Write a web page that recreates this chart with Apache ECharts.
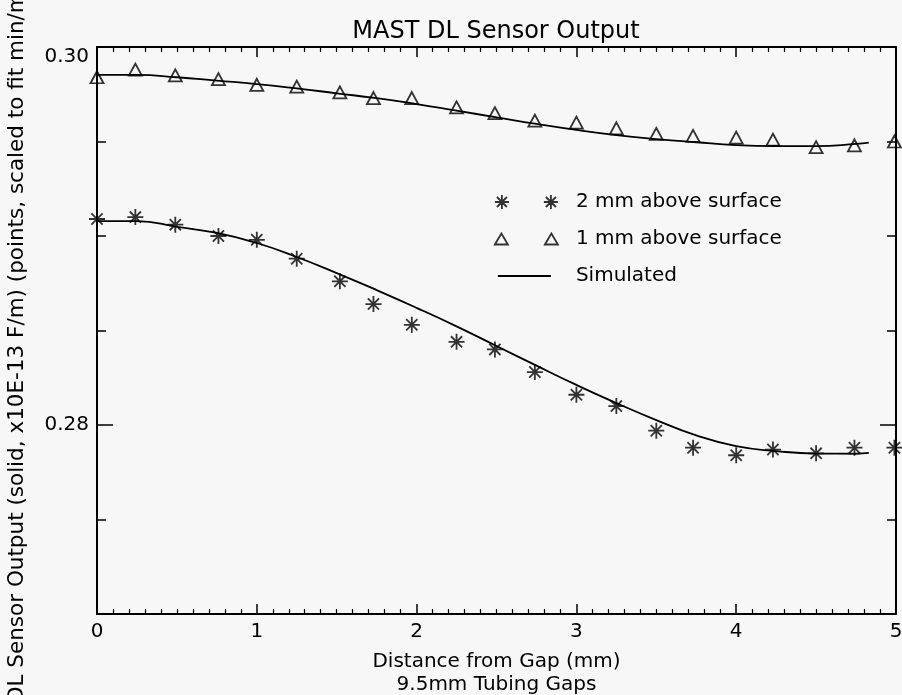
<!DOCTYPE html>
<html>
<head>
<meta charset="utf-8">
<script src="https://cdn.jsdelivr.net/npm/echarts@6.0.0/dist/echarts.min.js"></script>
<style>
  html, body { margin: 0; padding: 0; background: #f7f7f7; }
  #main { width: 902px; height: 695px; }
</style>
</head>
<body>
<div id="main"></div>
<script>
// measured points (mm from gap)
var distance = [0, 0.24, 0.49, 0.76, 1.0, 1.25, 1.52, 1.73, 1.97, 2.25, 2.49, 2.74, 3.0, 3.25, 3.5, 3.73, 4.0, 4.23, 4.5, 4.74, 4.99];
var above2mm = [0.2909, 0.2910, 0.2906, 0.2900, 0.2898, 0.2888, 0.2876, 0.2864, 0.2853, 0.2844, 0.2840, 0.2828, 0.2816, 0.2810, 0.2797, 0.2788, 0.2784, 0.2787, 0.2785, 0.2788, 0.2788];
var above1mm = [0.2984, 0.2988, 0.2985, 0.2983, 0.2980, 0.2979, 0.2976, 0.2973, 0.2973, 0.2968, 0.2965, 0.2961, 0.2960, 0.2957, 0.2954, 0.2953, 0.2952, 0.2951, 0.2947, 0.2948, 0.2950];

// simulated curves
var simDistance = [0, 0.25, 0.5, 0.75, 1.0, 1.25, 1.5, 1.75, 2.0, 2.25, 2.5, 2.75, 3.0, 3.25, 3.5, 3.75, 4.0, 4.25, 4.5, 4.75, 4.83];
var sim2mm = [0.29079, 0.29079, 0.29048, 0.29016, 0.28963, 0.28889, 0.28804, 0.28714, 0.28620, 0.28522, 0.28418, 0.28314, 0.28212, 0.28116, 0.28026, 0.27945, 0.27888, 0.27862, 0.27849, 0.27848, 0.27852];
var sim1mm = [0.29852, 0.29852, 0.29840, 0.29822, 0.29804, 0.29781, 0.29755, 0.29729, 0.29698, 0.29663, 0.29628, 0.29593, 0.29561, 0.29534, 0.29513, 0.29496, 0.29481, 0.29476, 0.29476, 0.29487, 0.29494];

var yLabels = [0.28, 0.30];

var font = 'DejaVu Sans';
var black = '#000';

// symbols
var asterisk = 'path://M6,0L6,12M0,6L12,6M1.8,1.8L10.2,10.2M1.8,10.2L10.2,1.8';
var asteriskPair = 'path://M7,0L7,14M0,7L14,7M2,2L12,12M2,12L12,2' +
  'M56,0L56,14M49,7L63,7M51,2L61,12M51,12L61,2';
var trianglePair = 'path://M0,12L6.5,1L13,12ZM50,12L56.5,1L63,12Z';
var linePath = 'path://M3,6.1L56,6.1L56,7.9L3,7.9ZM0,0M63,14';

function pairs(xs, ys) {
  return xs.map(function (x, i) { return [x, ys[i]]; });
}

var chart = echarts.init(document.getElementById('main'));

function xAxisOf(pos, labels) {
  return {
    type: 'value', min: 0, max: 5, interval: 1, position: pos,
    axisLine: { show: true, onZero: false, lineStyle: { color: black, width: 2 } },
    axisTick: { inside: true, length: 10, lineStyle: { color: black, width: 1.5 } },
    minorTick: { show: true, splitNumber: 10, length: 5, lineStyle: { color: black, width: 1.2 } },
    axisLabel: { show: labels, margin: 8, color: black, fontSize: 20, fontFamily: font },
    splitLine: { show: false }
  };
}

function yAxisOf(pos, major) {
  var ax = {
    type: 'value', min: 0.27, max: 0.30, interval: 0.005, position: pos,
    axisLine: { show: !major, onZero: false, lineStyle: { color: black, width: 2 } },
    axisTick: { inside: true, length: major ? 16 : 9, lineStyle: { color: black, width: 1.5 } },
    axisLabel: { show: false },
    splitLine: { show: false }
  };
  if (major) ax.axisTick.customValues = yLabels;
  return ax;
}

var yLeft = yAxisOf('left', false);
yLeft.axisLabel = {
  show: true, customValues: yLabels, margin: 8, color: black, fontSize: 20, fontFamily: font,
  formatter: function (v) {
    // top label sits a little below the frame, as in the original
    return v > 0.2995 ? '{lo|' + v.toFixed(2) + '}' : v.toFixed(2);
  },
  rich: { lo: { color: black, fontSize: 20, fontFamily: font, padding: [20, 0, 0, 0] } }
};
yLeft.name = 'DL Sensor Output (solid, x10E-13 F/m) (points, scaled to fit min/max)';
yLeft.nameLocation = 'middle';
yLeft.nameRotate = 90;
yLeft.nameGap = 69;
yLeft.nameTextStyle = { color: black, fontSize: 21.5, fontFamily: font };

var xBottom = xAxisOf('bottom', true);
xBottom.name = 'Distance from Gap (mm)\n9.5mm Tubing Gaps';
xBottom.nameLocation = 'middle';
xBottom.nameGap = 36;
xBottom.nameTextStyle = { color: black, fontSize: 20, fontFamily: font, lineHeight: 23 };

var option = {
  animation: false,
  backgroundColor: '#f7f7f7',
  title: {
    text: 'MAST DL Sensor Output',
    left: 496, top: 20, padding: 0, textAlign: 'center',
    textStyle: { color: black, fontSize: 24, fontWeight: 'normal', fontFamily: font }
  },
  legend: {
    orient: 'vertical', left: 494, top: 192, padding: 0,
    itemWidth: 63, itemHeight: 14, itemGap: 17,
    selectedMode: false,
    itemStyle: { color: 'transparent', borderColor: black, borderWidth: 1.8 },
    textStyle: { color: black, fontSize: 20, fontFamily: font, lineHeight: 20, padding: [0, 0, 0, 13] },
    data: [
      { name: '2 mm above surface', icon: asteriskPair },
      { name: '1 mm above surface', icon: trianglePair },
      { name: 'Simulated', icon: linePath, itemStyle: { color: black, borderWidth: 0 } }
    ]
  },
  grid: { left: 97, right: 6, top: 47, bottom: 81, outerBoundsMode: 'none' },
  xAxis: [xBottom, xAxisOf('top', false)],
  yAxis: [yLeft, yAxisOf('left', true), yAxisOf('right', false), yAxisOf('right', true)],
  series: [
    {
      name: 'Simulated', type: 'line', smooth: true, symbol: 'none',
      lineStyle: { color: black, width: 1.8 }, itemStyle: { color: black },
      data: pairs(simDistance, sim2mm)
    },
    {
      name: 'Simulated', type: 'line', smooth: true, symbol: 'none',
      lineStyle: { color: black, width: 1.8 }, itemStyle: { color: black },
      data: pairs(simDistance, sim1mm)
    },
    {
      name: '2 mm above surface', type: 'scatter', symbol: asterisk, symbolSize: 16,
      itemStyle: { color: 'transparent', borderColor: black, borderWidth: 1.8 },
      data: pairs(distance, above2mm)
    },
    {
      name: '1 mm above surface', type: 'scatter', symbol: 'triangle', symbolSize: [13, 12],
      itemStyle: { color: 'transparent', borderColor: black, borderWidth: 1.8 },
      data: pairs(distance, above1mm)
    }
  ]
};

chart.setOption(option);
</script>
</body>
</html>
